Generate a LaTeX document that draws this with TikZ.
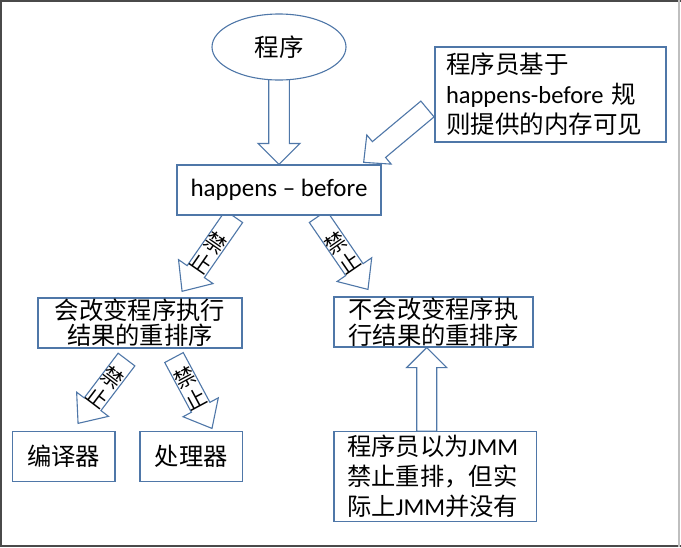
\documentclass[tikz,border=0pt]{standalone}
\usepackage{fontspec}
\setmainfont{Carlito}
\newfontfamily\cjk{Noto Sans CJK SC}
\usetikzlibrary{shapes.geometric,calc}
\definecolor{bcol}{HTML}{4F77A8}
\definecolor{frameg}{HTML}{4A4A4A}
\pgfdeclarelayer{back}
\pgfdeclarelayer{bg}
\pgfsetlayers{back,bg,main}
\tikzset{
  box/.style={draw=bcol, line width=1.1pt, fill=white, inner sep=0pt, text=black},
  barrow/.style={draw=bcol, line width=1.1pt, fill=white, line join=miter},
  jz/.style={font=\cjk\fontsize{21}{25}\selectfont, align=center, transform shape, rotate=90, inner sep=0pt, text=black}
}
% #1 from, #2 to, #3 shaft half width, #4 head half width, #5 head length, #6 extra content
\newcommand\blockarrow[6]{%
  \pgfmathanglebetweenpoints{\pgfpointanchor{#1}{center}}{\pgfpointanchor{#2}{center}}%
  \let\baAng\pgfmathresult
  \pgfpointdiff{\pgfpointanchor{#1}{center}}{\pgfpointanchor{#2}{center}}%
  \pgfgetlastxy{\baX}{\baY}%
  \pgfmathveclen{\baX}{\baY}\let\baLen\pgfmathresult
  \begin{pgfonlayer}{bg}
  \begin{scope}[shift={(#1)}, rotate=\baAng]
    \draw[barrow] (0,-#3) -- (\baLen-#5,-#3) -- (\baLen-#5,-#4) -- (\baLen,0)
      -- (\baLen-#5,#4) -- (\baLen-#5,#3) -- (0,#3) -- cycle;
    #6
  \end{scope}
  \end{pgfonlayer}}
\begin{document}
\begin{tikzpicture}[x=1pt,y=1pt]
\useasboundingbox (0,0) rectangle (681,-547);
\begin{pgfonlayer}{back}
  \fill[white] (0,0) rectangle (681,-547);
\end{pgfonlayer}

% nodes
\node[ellipse, draw=bcol, line width=1.1pt, fill=white, minimum width=134pt, minimum height=66pt,
      inner sep=0pt, font=\cjk\fontsize{24.5}{26}\selectfont] (prog) at (279,-47) {程序};
\node[box, minimum width=204pt, minimum height=50pt, font=\fontsize{25}{26}\selectfont]
      (hb) at (279,-190) {happens – before};
\node[box, minimum width=231pt, minimum height=95pt, text width=209pt, align=left,
      font=\fontsize{24.5}{30}\selectfont] (tr) at (550.5,-94.5)
      {{\cjk 程序员基于}\\happens-before {\cjk 规}\\{\cjk 则提供的内存可见}};
\node[box, minimum width=204pt, minimum height=50pt, align=center,
      font=\cjk\fontsize{24.3}{25}\selectfont] (lm) at (140,-323) {会改变程序执行\\结果的重排序};
\node[box, minimum width=199pt, minimum height=50pt, align=center,
      font=\cjk\fontsize{24.3}{26}\selectfont] (rm) at (433.5,-322) {不会改变程序执\\行结果的重排序};
\node[box, minimum width=202.7pt, minimum height=90pt, text width=176pt, align=left,
      font=\fontsize{24.3}{30}\selectfont] (jmm) at (435.3,-476.7)
      {{\cjk 程序员以为}JMM\\{\cjk 禁止重排，但实}\\{\cjk 际上}JMM{\cjk 并没有}};
\node[box, minimum width=102.3pt, minimum height=50pt, font=\cjk\fontsize{24.3}{26}\selectfont]
      (bianyi) at (63.8,-456.7) {编译器};
\node[box, minimum width=102.7pt, minimum height=50pt, font=\cjk\fontsize{24.3}{26}\selectfont]
      (chuli) at (191.3,-456.7) {处理器};

% arrow end points
\coordinate (a1s) at ($(prog.south)+(0,3)$);
\coordinate (a1e) at (hb.north);
\coordinate (a2s) at ($(tr.west)+(-7,-14.5)$);
\coordinate (a2e) at ($(hb.north east)+(-18,2)$);
\coordinate (a3s) at ($(hb.south)+(-45,-1)$);
\coordinate (a3e) at ($(lm.north)+(42,6)$);
\coordinate (a4s) at ($(hb.south)+(39,-1)$);
\coordinate (a4e) at ($(rm.north)+(-65.5,7)$);
\coordinate (a5s) at ($(lm.south)+(-13.5,-11)$);
\coordinate (a5e) at ($(bianyi.north)+(14.2,7.7)$);
\coordinate (a6s) at ($(lm.south)+(34,-9)$);
\coordinate (a6e) at ($(chuli.north)+(20.7,2.7)$);
\coordinate (a7s) at ($(jmm.north)+(-8.6,0)$);
\coordinate (a7e) at ($(rm.south)+(-6.8,0)$);

\blockarrow{a1s}{a1e}{10.3}{21}{21}{}
\blockarrow{a2s}{a2e}{10.3}{19}{20}{}
\blockarrow{a3s}{a3e}{10.5}{21}{24}{\node[jz] at (43.5,0) {禁\\止};}
\blockarrow{a4s}{a4e}{10.5}{21}{24}{\node[jz] at (43.5,0) {禁\\止};}
\blockarrow{a5s}{a5e}{10.5}{20}{24}{\node[jz] at (34.5,0) {禁\\止};}
\blockarrow{a6s}{a6e}{10.5}{20}{24}{\node[jz] at (34.5,0) {禁\\止};}
\blockarrow{a7s}{a7e}{10}{20}{20}{}

% screenshot frame
\fill[frameg] (0,0) rectangle (681,-2);
\fill[frameg] (0,0) rectangle (2,-547);
\fill[frameg] (0,-544.5) rectangle (681,-547);
\fill[black!25] (678,0) rectangle (679.5,-547);
\end{tikzpicture}
\end{document}
